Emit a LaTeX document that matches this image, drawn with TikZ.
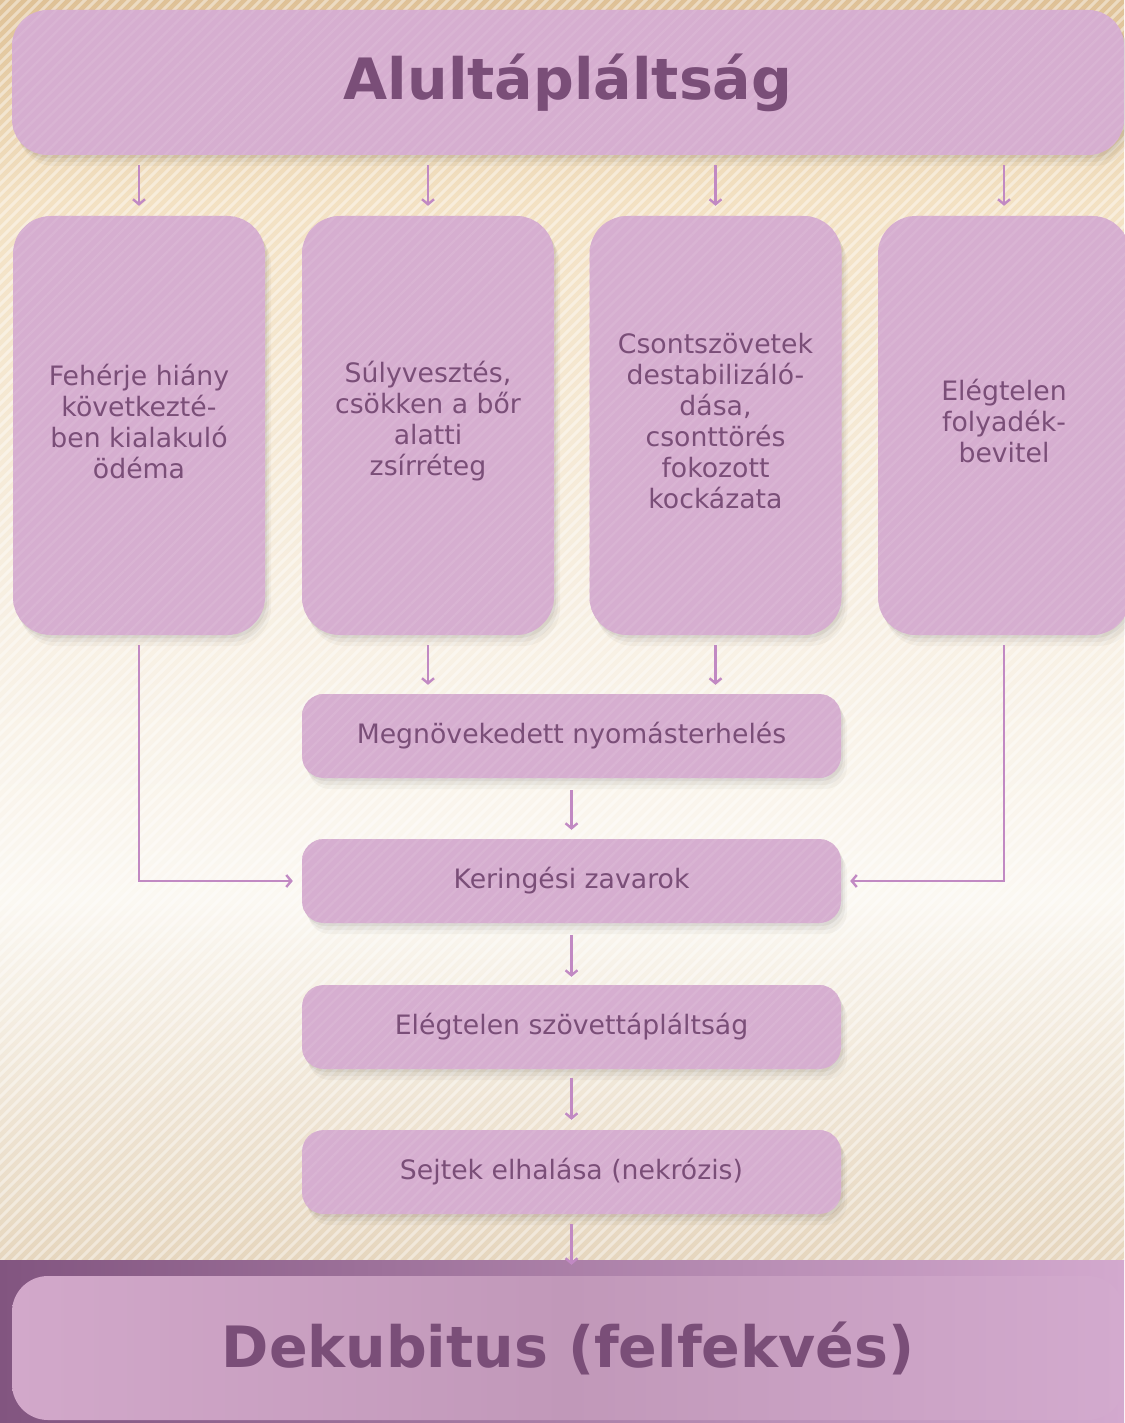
\documentclass[tikz,border=0pt]{standalone}
\usepackage{fontspec}
\setmainfont{DejaVu Sans}
\usetikzlibrary{arrows.meta,patterns.meta,shadows}
\definecolor{bgA}{HTML}{DFC196}
\definecolor{bgB}{HTML}{F3E1C3}
\definecolor{bgC}{HTML}{F7EFE2}
\definecolor{bgD}{HTML}{FBF8F2}
\definecolor{bgE}{HTML}{E6D6BE}
\definecolor{stripL}{HTML}{825580}
\definecolor{stripR}{HTML}{D3A9CE}
\definecolor{boxfill}{HTML}{D6AED0}
\definecolor{txt}{HTML}{7A4E78}
\definecolor{arrc}{HTML}{C189C3}
\definecolor{botL}{HTML}{D2A8CA}
\definecolor{botM}{HTML}{C198B9}
\definecolor{botR}{HTML}{D3AACE}
\begin{document}
\begin{tikzpicture}[x=1pt,y=-1pt,
  softshadow/.style={
    drop shadow={opacity=0.05, shadow xshift=2pt, shadow yshift=-3pt, fill=black},
    drop shadow={opacity=0.04, shadow xshift=4pt, shadow yshift=-7pt, fill=black},
    drop shadow={opacity=0.03, shadow xshift=6pt, shadow yshift=-11pt, fill=black}},
  stripes/.style={postaction={pattern={Lines[angle=45,distance=7.8pt,line width=2.4pt]}, pattern color=boxfill!93!white}},
  basebox/.style={rectangle, fill=boxfill, text=txt, align=center, inner sep=0pt, softshadow, stripes},
  bigbox/.style={basebox, rounded corners=36pt, font=\bfseries\fontsize{57}{62}\selectfont},
  colbox/.style={basebox, rounded corners=38pt, minimum width=252pt, minimum height=419pt},
  coltext/.style={text=txt, align=center, inner sep=0pt, font=\fontsize{26.7}{31}\selectfont},
  midbox/.style={basebox, rounded corners=22pt, minimum width=539pt, minimum height=84pt, font=\fontsize{26.7}{31}\selectfont},
  arr/.style={draw=arrc, line width=2.6pt, -{Straight Barb[length=5pt,width=12pt,line width=2.4pt]}}
]
\useasboundingbox (0,0) rectangle (1124,1423);
% background
\begin{scope}
\clip (0,0) rectangle (1124,1423);
\shade[top color=bgA, bottom color=bgB] (0,0) rectangle (1124,200.5);
\shade[top color=bgB, bottom color=bgC] (0,200) rectangle (1124,600.5);
\shade[top color=bgC, bottom color=bgD] (0,600) rectangle (1124,900.5);
\shade[top color=bgD, bottom color=bgE] (0,900) rectangle (1124,1260);
\begin{scope}
\clip (0,0) rectangle (1124,1260);
\foreach \i in {-1430,-1419,...,1124}
  \draw[white, draw opacity=0.42, line width=3pt] (\i,1262) -- ++(1264,-1264);
\end{scope}
\shade[left color=stripL, right color=stripR] (0,1260) rectangle (1124,1423);
\end{scope}

% boxes
\node[bigbox, minimum width=1112pt, minimum height=145pt] (top) at (568,82.5) {Alultápláltság};

\node[colbox] (c1) at (139,425.5) {};
\node[colbox] (c2) at (428,425.5) {};
\node[colbox] (c3) at (715.5,425.5) {};
\node[colbox] (c4) at (1004,425.5) {};
\node[coltext] (t1) at ([yshift=4pt]c1.center) {Fehérje hiány\\következté-\\ben kialakuló\\ödéma};
\node[coltext] (t2) at ([yshift=4pt]c2.center) {Súlyvesztés,\\csökken a bőr\\alatti\\zsírréteg};
\node[coltext] (t3) at ([yshift=4pt]c3.center) {Csontszövetek\\destabilizáló-\\dása,\\csonttörés\\fokozott\\kockázata};
\node[coltext] (t4) at ([yshift=4pt]c4.center) {Elégtelen\\folyadék-\\bevitel};

\node[midbox] (mega) at (571.5,736) {Megnövekedett nyomásterhelés};
\node[midbox] (ker) at (571.5,881) {Keringési zavarok};
\node[midbox] (ele) at (571.5,1027) {Elégtelen szövettápláltság};
\node[midbox] (sej) at (571.5,1172) {Sejtek elhalása (nekrózis)};

\node[rectangle, rounded corners=36pt, minimum width=1112pt, minimum height=144pt, inner sep=0pt,
  left color=botL, right color=botR, middle color=botM, text=txt,
  font=\bfseries\fontsize{57}{62}\selectfont] (bot) at (568,1348) {Dekubitus (felfekvés)};

% connectors
\foreach \c in {c1,c2,c3,c4}
  \draw[arr, shorten <=10pt, shorten >=10pt] (top.south -| \c.north) -- (\c.north);
\draw[arr, shorten <=10pt, shorten >=9pt] (c2.south) -- (c2.south |- mega.north);
\draw[arr, shorten <=10pt, shorten >=9pt] (c3.south) -- (c3.south |- mega.north);
\draw[arr, shorten <=12pt, shorten >=9pt] (mega.south) -- (ker.north);
\draw[arr, shorten <=12pt, shorten >=8pt] (ker.south) -- (ele.north);
\draw[arr, shorten <=9pt, shorten >=10pt] (ele.south) -- (sej.north);
\draw[arr, shorten <=10pt, shorten >=11pt] (sej.south) -- (sej.south |- bot.north);
\draw[arr, shorten <=10pt, shorten >=9pt] (c1.south) |- (ker.west);
\draw[arr, shorten <=10pt, shorten >=9pt] (c4.south) |- (ker.east);
\end{tikzpicture}
\end{document}
